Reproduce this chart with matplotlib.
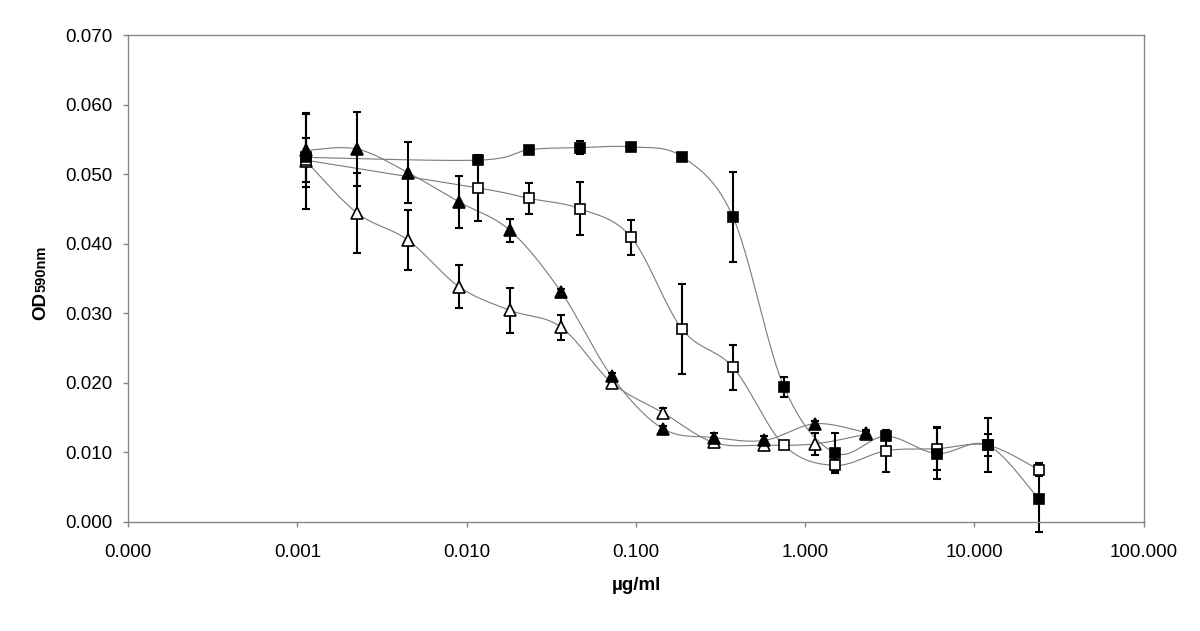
import numpy as np
import matplotlib
matplotlib.use("Agg")
import matplotlib.pyplot as plt

plt.rcParams['font.family'] = ['Liberation Sans', 'DejaVu Sans']

# ---- data ----
x_tri = [0.00112, 0.00225, 0.0045, 0.009, 0.018, 0.036, 0.072, 0.144, 0.288, 0.575, 1.15, 2.3]
filled_tri = [0.0534, 0.0536, 0.0502, 0.0460, 0.0419, 0.0331, 0.0209, 0.0134, 0.0121, 0.0117, 0.0141, 0.0128]
filled_tri_err = [0.0052, 0.0053, 0.0044, 0.0037, 0.0017, 0.0004, 0.0005, 0.0003, 0.0006, 0.0006, 0.0004, 0.0004]
open_tri = [0.0519, 0.0444, 0.0405, 0.0338, 0.0304, 0.0280, 0.0200, 0.0157, 0.0114, 0.0110, 0.0112, 0.0126]
open_tri_err = [0.0069, 0.0057, 0.0043, 0.0031, 0.0032, 0.0018, 0.0005, 0.0007, 0.0007, 0.0006, 0.0016, 0.0004]

x_sq = [0.00112, 0.0117, 0.0234, 0.0469, 0.0938, 0.1875, 0.375, 0.75, 1.5, 3.0, 6.0, 12.0, 24.0]
filled_sq = [0.0524, 0.0520, 0.0535, 0.0538, 0.0539, 0.0525, 0.0438, 0.0194, 0.0099, 0.0123, 0.0098, 0.0110, 0.0033]
filled_sq_err = [0.0003, 0.0004, 0.0005, 0.0009, 0.0005, 0.0004, 0.0065, 0.0014, 0.0029, 0.0005, 0.0037, 0.0039, 0.0048]
open_sq = [0.0520, 0.0480, 0.0465, 0.0450, 0.0409, 0.0277, 0.0222, 0.0110, 0.0081, 0.0102, 0.0105, 0.0110, 0.0075]
open_sq_err = [0.0032, 0.0047, 0.0022, 0.0038, 0.0025, 0.0065, 0.0032, 0.0003, 0.0008, 0.0030, 0.0031, 0.0016, 0.0009]

x_ticks = [0.0001, 0.001, 0.01, 0.1, 1, 10, 100]
x_ticklabels = ['0.000', '0.001', '0.010', '0.100', '1.000', '10.000', '100.000']
y_ticks = [0.0, 0.01, 0.02, 0.03, 0.04, 0.05, 0.06, 0.07]


def smooth(xs, ys, n=24):
    """Excel-style smoothed line (Catmull-Rom Bezier) in log-x space."""
    lx = np.log10(np.asarray(xs, float))
    y = np.asarray(ys, float)
    P = np.column_stack([lx, y])
    m = len(P)
    out = []
    t = np.linspace(0, 1, n)[:, None]
    for i in range(m - 1):
        p0 = P[i - 1] if i > 0 else P[i]
        p1 = P[i]
        p2 = P[i + 1]
        p3 = P[i + 2] if i + 2 < m else P[i + 1]
        c1 = p1 + (p2 - p0) / 6.0
        c2 = p2 - (p3 - p1) / 6.0
        seg = ((1 - t) ** 3) * p1 + 3 * ((1 - t) ** 2) * t * c1 + 3 * (1 - t) * t ** 2 * c2 + t ** 3 * p2
        out.append(seg if i == 0 else seg[1:])
    pts = np.vstack(out)
    return 10 ** pts[:, 0], pts[:, 1]


fig = plt.figure(figsize=(12, 6.31), dpi=100)
ax = fig.add_axes([128.3 / 1200, 109.3 / 631, 1015.2 / 1200, 486.7 / 631])

line_col = '#7a7a7a'
series = [
    (x_tri, open_tri, open_tri_err, '^', 'white', 8.0),
    (x_sq, open_sq, open_sq_err, 's', 'white', 7.0),
    (x_tri, filled_tri, filled_tri_err, '^', 'black', 8.0),
    (x_sq, filled_sq, filled_sq_err, 's', 'black', 7.0),
]

for xs, ys, es, mk, fc, ms in series:
    sx, sy = smooth(xs, ys)
    ax.plot(sx, sy, color=line_col, lw=0.8, zorder=1)

for xs, ys, es, mk, fc, ms in series:
    eb = ax.errorbar(xs, ys, yerr=es, fmt='none', ecolor='black', elinewidth=1.5,
                     capsize=3.2, capthick=1.5, zorder=2)
    for c in eb.get_children():
        c.set_clip_on(False)

for xs, ys, es, mk, fc, ms in series:
    ax.plot(xs, ys, linestyle='none', marker=mk, markersize=ms, markerfacecolor=fc,
            markeredgecolor='black', markeredgewidth=1.2, zorder=3, clip_on=False)

ax.set_xscale('log')
ax.set_xlim(0.0001, 100)
ax.set_ylim(0, 0.07)
ax.set_xticks(x_ticks)
ax.set_xticklabels(x_ticklabels)
ax.xaxis.set_minor_locator(matplotlib.ticker.NullLocator())
ax.set_yticks(y_ticks)
ax.set_yticklabels(['%.3f' % v for v in y_ticks])

for s in ax.spines.values():
    s.set_color('#868686')
    s.set_linewidth(1.0)
ax.tick_params(axis='both', which='major', direction='out', length=3.6, width=1.0,
               color='#868686', labelsize=13.5, labelcolor='black')
ax.tick_params(axis='y', pad=8.0)
ax.tick_params(axis='x', pad=12.5)

fig.text(636 / 1200, 1 - 585 / 631, 'µg/ml', ha='center', va='center',
         fontsize=13.5, fontweight='bold')
# y-axis title: "OD" with smaller "590nm" on nearly the same baseline
fig.text(45.0 / 1200, 1 - 320 / 631, 'OD', rotation=90, rotation_mode='anchor',
         ha='left', va='baseline', fontsize=13.5, fontweight='bold')
fig.text(45.5 / 1200, 1 - 292 / 631, '590nm', rotation=90, rotation_mode='anchor',
         ha='left', va='baseline', fontsize=10.5, fontweight='bold')

fig.savefig('out.png', dpi=100)
